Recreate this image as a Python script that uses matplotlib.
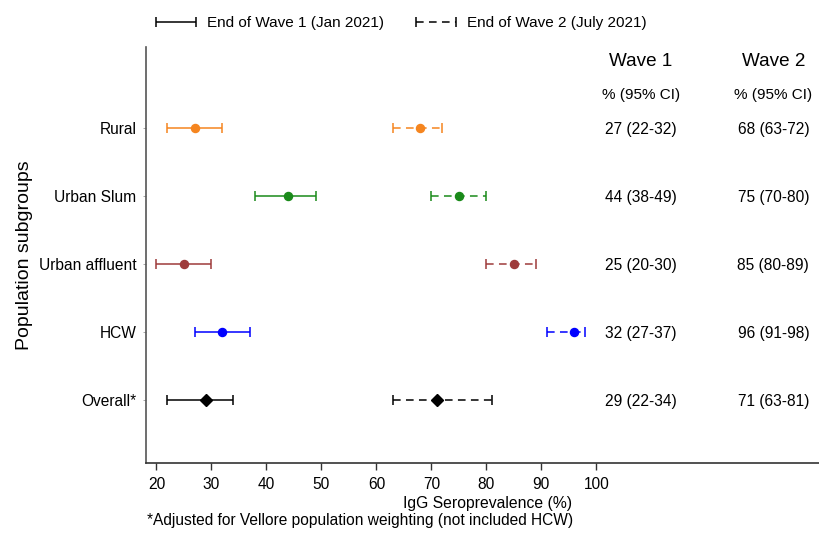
import matplotlib
matplotlib.use("Agg")
import matplotlib.pyplot as plt
from matplotlib.legend_handler import HandlerErrorbar
from matplotlib.container import ErrorbarContainer

plt.rcParams['font.family'] = ['Liberation Sans', 'DejaVu Sans']

groups = ["Rural", "Urban Slum", "Urban affluent", "HCW", "Overall*"]
colors = ["#f5851f", "#1a8a1a", "#9e3b3b", "#0000ff", "#000000"]
w1_est = [27, 44, 25, 32, 29]
w1_lo = [22, 38, 20, 27, 22]
w1_hi = [32, 49, 30, 37, 34]
w2_est = [68, 75, 85, 96, 71]
w2_lo = [63, 70, 80, 91, 63]
w2_hi = [72, 80, 89, 98, 81]
xticks = [20, 30, 40, 50, 60, 70, 80, 90, 100]

fig = plt.figure(figsize=(8.19, 5.34), dpi=100)
ax = fig.add_axes([146/819, 1 - 463/534, 1 - 146/819, (463 - 47)/534])

dash = (0, (5, 3.5))
lw = 1.1
legend_handles = []
for i, g in enumerate(groups):
    c = colors[i]
    marker = 'D' if i == 4 else 'o'
    ms = 6.5 if i == 4 else 5.8
    for est, lo, hi, dashed in [(w1_est, w1_lo, w1_hi, False), (w2_est, w2_lo, w2_hi, True)]:
        eb = ax.errorbar([est[i]], [i], xerr=[[est[i] - lo[i]], [hi[i] - est[i]]],
                         fmt='none', ecolor=c, elinewidth=lw, capsize=3.8,
                         capthick=lw, zorder=2)
        if dashed:
            for coll in eb[2]:
                coll.set_linestyle(dash)
        if i == 4:
            legend_handles.append(eb)
        ax.plot([est[i]], [i], marker=marker, color=c, ms=ms, linestyle='none', zorder=3)

ax.set_xlim(18.1, 140.5)
ax.set_ylim(4.93, -1.19)
ax.set_xticks(xticks)
ax.set_xticklabels([str(t) for t in xticks])
ax.set_yticks(range(len(groups)))
ax.set_yticklabels(groups)
ax.tick_params(axis='x', length=5, width=1, labelsize=11.2, pad=5, color='#333333')
ax.tick_params(axis='y', length=2, width=0.6, labelsize=11.2, pad=5, color='#999999')
for s in ['top', 'right']:
    ax.spines[s].set_visible(False)
ax.spines['left'].set_color('#555555')
ax.spines['bottom'].set_color('#333333')
ax.spines['left'].set_linewidth(1.2)
ax.spines['bottom'].set_linewidth(1.2)

ax.set_xlabel("IgG Seroprevalence (%)", fontsize=11.3)
ax.xaxis.set_label_coords(0.507, -0.08)
ax.set_ylabel("Population subgroups", fontsize=14, labelpad=4)

# table columns
col1, col2 = 108.1, 132.2
ax.text(col1, -0.975, "Wave 1", ha='center', va='center', fontsize=13.6)
ax.text(col2, -0.975, "Wave 2", ha='center', va='center', fontsize=13.6)
ax.text(col1, -0.485, "% (95% CI)", ha='center', va='center', fontsize=11)
ax.text(col2, -0.485, "% (95% CI)", ha='center', va='center', fontsize=11)
for i in range(len(groups)):
    ax.text(col1, i + 0.03, f"{w1_est[i]} ({w1_lo[i]}-{w1_hi[i]})", ha='center', va='center', fontsize=11.2)
    ax.text(col2, i + 0.03, f"{w2_est[i]} ({w2_lo[i]}-{w2_hi[i]})", ha='center', va='center', fontsize=11.2)

leg = fig.legend(legend_handles, ["End of Wave 1 (Jan 2021)", "End of Wave 2 (July 2021)"],
                 loc='center', bbox_to_anchor=(401/819, 1 - 23/534), ncol=2, frameon=False,
                 fontsize=11, handlelength=2.7, handletextpad=0.65, columnspacing=2.1,
                 handler_map={ErrorbarContainer: HandlerErrorbar(xerr_size=1.3)})

fig.text(147/819, 1 - 520/534, "*Adjusted for Vellore population weighting (not included HCW)",
         ha='left', va='center', fontsize=11.2)

fig.savefig("out.png", dpi=100)
